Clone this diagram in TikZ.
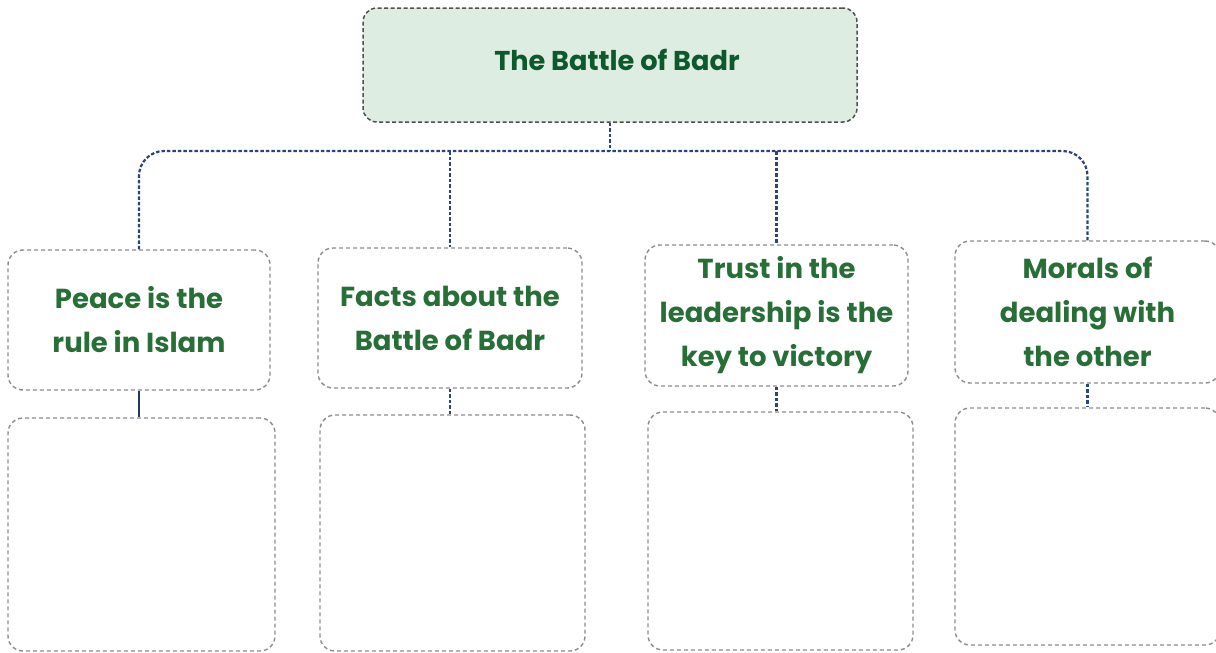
\documentclass[tikz,border=0pt]{standalone}
\usepackage{fontspec}
\setmainfont{Poppins}
\definecolor{titlegreen}{RGB}{14,88,46}
\definecolor{lblgreen}{RGB}{40,110,55}
\definecolor{topfill}{RGB}{221,237,225}
\definecolor{connblue}{RGB}{40,70,120}
\definecolor{boxgray}{RGB}{140,140,140}
\definecolor{topborder}{RGB}{80,80,80}
\tikzset{
  topbox/.style={draw=topborder, line width=1.5pt, dash pattern=on 4pt off 2.5pt, fill=topfill, rounded corners=14pt, inner sep=0pt},
  lblbox/.style={draw=boxgray, line width=1.4pt, dash pattern=on 4pt off 3pt, rounded corners=15pt, inner sep=0pt, align=center, text=lblgreen, font=\bfseries\fontsize{27.5}{44}\selectfont},
  conn/.style={draw=connblue, line width=2.2pt, dash pattern=on 3.5pt off 2pt},
  solidconn/.style={draw=connblue!80!black, line width=2.2pt}
}
\begin{document}
\begin{tikzpicture}[x=1pt,y=-1pt]
\useasboundingbox (0,0) rectangle (1216,653);
\node[topbox, minimum width=494pt, minimum height=114pt, text=titlegreen, font=\bfseries\fontsize{27.2}{30}\selectfont] (top) at (610,65) {\hspace*{14pt}\raisebox{10pt}{The Battle of Badr}};
% first row
\node[lblbox, minimum width=262pt, minimum height=140pt] (b1) at (139,320) {Peace is the\\rule in Islam};
\node[lblbox, minimum width=264pt, minimum height=140pt] (b2) at (450,318) {Facts about the\\Battle of Badr};
\node[lblbox, minimum width=263pt, minimum height=141pt] (b3) at (776.5,315.5) {Trust in the\\leadership is the\\key to victory};
\node[lblbox, minimum width=265pt, minimum height=142pt] (b4) at (1087.5,312) {Morals of\\dealing with\\the other};
% second row
\node[lblbox, minimum width=267pt, minimum height=233pt] (c1) at (141.5,534.5) {};
\node[lblbox, minimum width=265pt, minimum height=236pt] (c2) at (452.5,533) {};
\node[lblbox, minimum width=265pt, minimum height=238pt] (c3) at (780.5,531) {};
\node[lblbox, minimum width=265pt, minimum height=237pt] (c4) at (1087.5,526.5) {};
% connectors
\coordinate (bus) at (610,151);
\draw[conn] (top.south) -- (bus);
\draw[conn, rounded corners=25pt] (b1.north) |- (bus) -| (b4.north);
\draw[conn] (b2.north |- bus) -- (b2.north);
\draw[conn] (b3.north |- bus) -- (b3.north);
\draw[solidconn] (b1.south) -- (b1.south |- c1.north);
\draw[conn] (b2.south) -- (b2.south |- c2.north);
\draw[conn] (b3.south) -- (b3.south |- c3.north);
\draw[conn] (b4.south) -- (b4.south |- c4.north);
\end{tikzpicture}
\end{document}
